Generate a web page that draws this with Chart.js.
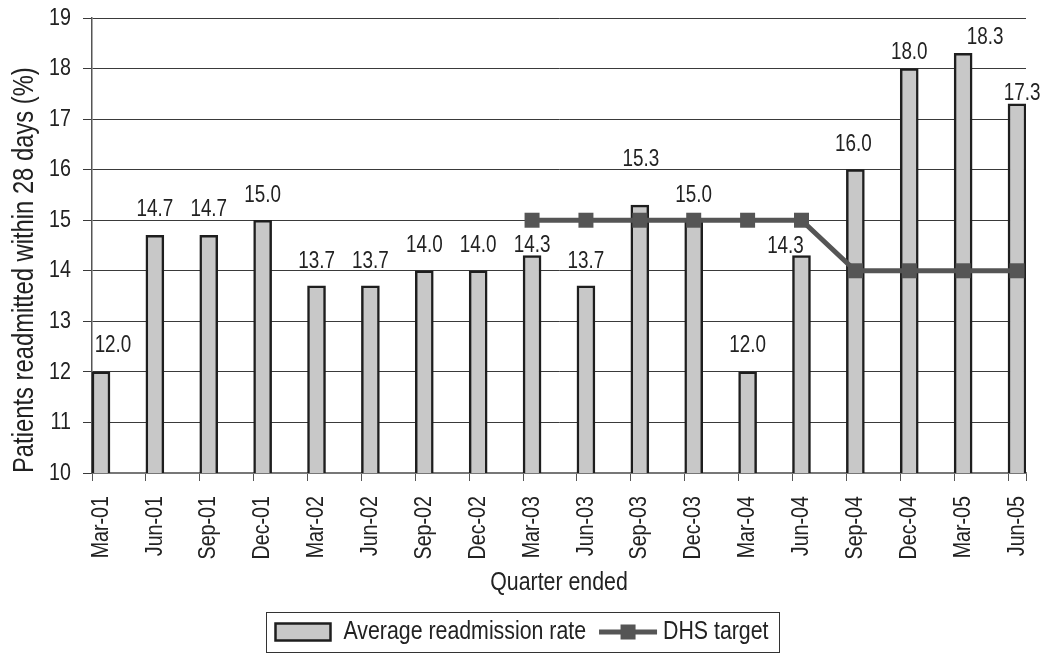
<!DOCTYPE html>
<html>
<head>
<meta charset="utf-8">
<title>Readmission rate</title>
<script src="https://cdn.jsdelivr.net/npm/chart.js@4/dist/chart.umd.min.js"></script>
<style>
  html, body { margin: 0; padding: 0; background: #fff; }
  #wrap { width: 1046px; height: 655px; }
</style>
</head>
<body>
<div id="wrap"><canvas id="readmitChart"></canvas></div>
<script>
/* data */
const quarters = ['Mar-01', 'Jun-01', 'Sep-01', 'Dec-01', 'Mar-02', 'Jun-02', 'Sep-02', 'Dec-02', 'Mar-03',
                  'Jun-03', 'Sep-03', 'Dec-03', 'Mar-04', 'Jun-04', 'Sep-04', 'Dec-04', 'Mar-05', 'Jun-05'];
const readmitRate = [12.0, 14.7, 14.7, 15.0, 13.7, 13.7, 14.0, 14.0, 14.3, 13.7, 15.3, 15.0, 12.0, 14.3, 16.0, 18.0, 18.3, 17.3];
const dhsTarget = [null, null, null, null, null, null, null, null, 15, 15, 15, 15, 15, 15, 14, 14, 14, 14];
const yTicks = [10, 11, 12, 13, 14, 15, 16, 17, 18, 19];

/* value label nudges (px): space between label and bar top, sideways shift */
const labelGap = [20, 19, 19, 18, 18, 18, 19, 19, 4, 18, 39, 18, 20, 3, 19, 10, 9, 4];
const labelShift = [12, 0, 0, 0, 0, 0, 0, 0, 0, 0, 1, 0, 0, -16, -2, 0, 22, 5];

const FONT = "'Liberation Sans Narrow', 'Arial Narrow', 'Liberation Sans', Arial, sans-serif";
const INK = '#222';
const NARROW = 0.82;     // no narrow face installed, so squeeze the regular one
const halfBar = 1 / 6;   // bars sit at the left of each quarter slot

Chart.defaults.font.family = FONT;
Chart.defaults.color = INK;

// draw and measure all chart text horizontally condensed
function condenseText(c, k) {
  const fill = c.fillText.bind(c);
  const measure = c.measureText.bind(c);
  c.fillText = function (text, x, y, maxWidth) {
    c.save();
    c.translate(x, y);
    c.scale(k, 1);
    if (maxWidth === undefined) fill(text, 0, 0);
    else fill(text, 0, 0, maxWidth / k);
    c.restore();
  };
  c.measureText = function (text) {
    const m = measure(text);
    return {
      width: m.width * k,
      actualBoundingBoxLeft: m.actualBoundingBoxLeft * k,
      actualBoundingBoxRight: m.actualBoundingBoxRight * k,
      actualBoundingBoxAscent: m.actualBoundingBoxAscent,
      actualBoundingBoxDescent: m.actualBoundingBoxDescent,
      fontBoundingBoxAscent: m.fontBoundingBoxAscent,
      fontBoundingBoxDescent: m.fontBoundingBoxDescent
    };
  };
}

const narrowText = {
  id: 'narrowText',
  beforeInit(chart) {
    condenseText(chart.ctx, NARROW);
  }
};

/* numbers above the bars */
const valueLabels = {
  id: 'valueLabels',
  afterDatasetsDraw(chart) {
    const meta = chart.getDatasetMeta(0);
    const c = chart.ctx;
    c.save();
    c.font = '23px ' + FONT;
    c.fillStyle = INK;
    c.textAlign = 'center';
    c.textBaseline = 'alphabetic';
    meta.data.forEach((bar, i) => {
      c.fillText(readmitRate[i].toFixed(1), bar.x + labelShift[i], bar.y - labelGap[i]);
    });
    c.restore();
  }
};

/* frame round the legend + line/marker swatch for the target */
const legendFrame = {
  id: 'legendFrame',
  afterDraw(chart) {
    const boxes = chart.legend.legendHitBoxes;
    if (!boxes || boxes.length < 2) return;
    const c = chart.ctx;
    const left = Math.min(...boxes.map(b => b.left)) - 9;
    const right = Math.max(...boxes.map(b => b.left + b.width)) + 11;
    const cy = boxes[0].top + boxes[0].height / 2;
    c.save();
    c.strokeStyle = '#333';
    c.lineWidth = 1;
    c.strokeRect(Math.round(left) + 0.5, Math.round(cy - 20) + 0.5, Math.round(right - left), 40);

    const b = boxes[1];
    const x0 = b.left + 4, x1 = b.left + 62;
    c.strokeStyle = '#555';
    c.lineWidth = 5;
    c.beginPath();
    c.moveTo(x0, cy);
    c.lineTo(x1, cy);
    c.stroke();
    c.fillStyle = '#555';
    c.fillRect((x0 + x1) / 2 - 7.5, cy - 7.5, 15, 15);
    c.restore();
  }
};

const ctx = document.getElementById('readmitChart');

new Chart(ctx, {
  type: 'bar',
  data: {
    datasets: [{
      type: 'bar',
      label: 'Average readmission rate',
      data: readmitRate.map((v, i) => ({ x: i, y: v })),
      backgroundColor: '#c8c8c8',
      borderColor: '#1e1e1e',
      borderWidth: 2.5,
      barThickness: 18,
      order: 2
    }, {
      type: 'line',
      label: 'DHS target',
      data: dhsTarget.map((v, i) => ({ x: i, y: v })).filter(p => p.y !== null),
      borderColor: '#555',
      backgroundColor: '#555',
      borderWidth: 5,
      pointStyle: 'rect',
      pointRadius: 10.6,
      pointBorderWidth: 0,
      tension: 0,
      order: 1
    }]
  },
  options: {
    responsive: true,
    maintainAspectRatio: false,
    animation: false,
    devicePixelRatio: 1,
    layout: { padding: { top: 18, right: 20, bottom: 0, left: 18 } },
    plugins: {
      tooltip: { enabled: false },
      legend: {
        position: 'bottom',
        labels: {
          font: { size: 26 },
          color: INK,
          boxWidth: 55,
          boxHeight: 17,
          padding: 9,
          generateLabels(chart) {
            const items = Chart.defaults.plugins.legend.labels.generateLabels(chart)
              .sort((a, b) => a.datasetIndex - b.datasetIndex);
            const target = items.find(it => it.datasetIndex === 1);
            target.fillStyle = 'rgba(0,0,0,0)';
            target.strokeStyle = 'rgba(0,0,0,0)';
            target.lineWidth = 0;
            return items;
          }
        }
      }
    },
    scales: {
      x: {
        type: 'linear',
        offset: false,
        min: -halfBar,
        max: quarters.length - 1 + halfBar,
        afterBuildTicks(scale) {
          scale.ticks = quarters.map((q, i) => ({ value: i - halfBar }))
            .concat({ value: quarters.length - 1 + halfBar });
        },
        afterFit(scale) {
          scale.height = 137;
          scale.paddingLeft = 0;
          scale.paddingRight = 0;
        },
        ticks: {
          autoSkip: false,
          minRotation: 90,
          maxRotation: 90,
          labelOffset: 9,
          padding: 15,
          font: { size: 24 },
          color: INK,
          callback: (v, i) => quarters[i] || ''
        },
        grid: { display: true, offset: false, drawOnChartArea: false, drawTicks: true, tickLength: 8, color: '#555' },
        border: { display: true, color: '#777', width: 2 },
        title: {
          display: true,
          text: 'Quarter ended',
          font: { size: 26 },
          color: INK,
          padding: { top: 4, bottom: 12 }
        }
      },
      y: {
        min: yTicks[0],
        max: yTicks[yTicks.length - 1],
        afterBuildTicks(scale) {
          scale.ticks = yTicks.map(v => ({ value: v }));
        },
        afterFit(scale) {
          scale.width = 74;
          scale.paddingTop = 0;
          scale.paddingBottom = 0;
        },
        ticks: { padding: 12, font: { size: 24 }, color: INK },
        grid: { color: '#3a3a3a', lineWidth: 1, tickLength: 9 },
        border: { color: '#555', width: 1.5 },
        title: {
          display: true,
          text: 'Patients readmitted within 28 days (%)',
          align: 'start',
          font: { size: 29 },
          color: INK,
          padding: { top: -10, bottom: 0 }
        }
      }
    }
  },
  plugins: [narrowText, valueLabels, legendFrame]
});
</script>
</body>
</html>
